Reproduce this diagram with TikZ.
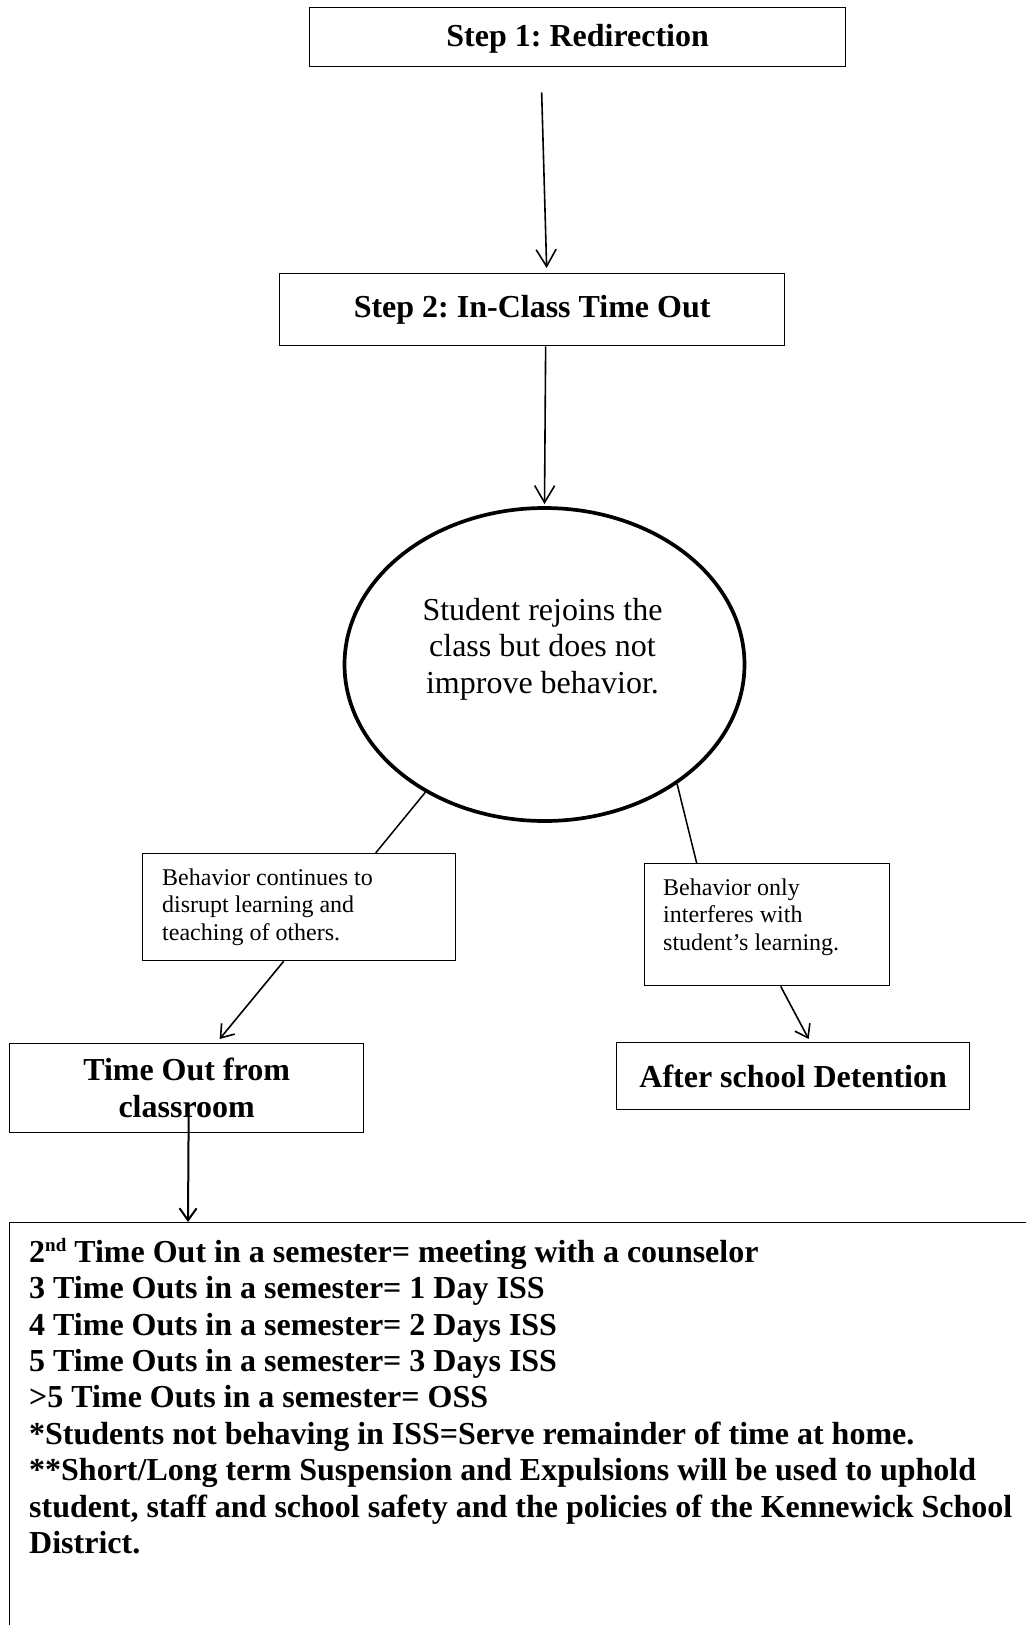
\documentclass[tikz,border=0pt]{standalone}
\usepackage{fontspec}
\setmainfont{Liberation Serif}
\usetikzlibrary{arrows.meta,calc,shapes.geometric}
\frenchspacing
\begin{document}
\begin{tikzpicture}[x=1pt,y=-1pt,
  boxline/.style={draw=black, line width=1.3pt, rectangle, inner sep=0pt, fill=white, anchor=north west},
  bigbold/.style={font=\fontsize{32}{37}\selectfont\bfseries},
  smalltext/.style={font=\fontsize{24}{27.5}\selectfont, align=left, anchor=north west, inner sep=0pt},
  conn/.style={line width=1.5pt},
  arrbig/.style={line width=1.6pt, -{Straight Barb[length=17pt,width=20pt]}},
  arrsmall/.style={line width=1.6pt, -{Straight Barb[length=12pt,width=17pt]}}]
\useasboundingbox (0,0) rectangle (1026,1625);
\fill[white] (0,0) rectangle (1026,1625);
\clip (0,0) rectangle (1026,1625);

% boxes
\node[boxline, bigbold, minimum width=536pt, minimum height=59pt, text depth=4pt] (s1) at (309,7) {Step 1: Redirection};
\node[boxline, bigbold, minimum width=505pt, minimum height=72pt] (s2) at (279,273) {Step 2: In-Class Time Out};
\node[ellipse, draw=black, line width=3.7pt, minimum width=400pt, minimum height=313pt, inner sep=0pt] (ell) at (544.5,664.5) {};
\node[font=\fontsize{32}{36.5}\selectfont, align=center, anchor=north, inner sep=0pt] (et) at (542.5,598) {Student rejoins the\\class but does not\\improve behavior.};

\node[boxline, minimum width=313pt, minimum height=107pt] (b1) at (142,853) {};
\node[smalltext] (b1t) at (162,868.6) {Behavior continues to\\disrupt learning and\\teaching of others.};
\node[boxline, minimum width=245pt, minimum height=122pt] (b2) at (644,863) {};
\node[smalltext] (b2t) at (663,878.6) {Behavior only\\interferes with\\student’s learning.};

\node[boxline, bigbold, align=center, minimum width=354pt, minimum height=89pt] (tob) at (9,1043) {Time Out from\\classroom};
\node[boxline, bigbold, minimum width=353pt, minimum height=67pt] (asd) at (616,1042) {After school Detention};

\node[boxline, minimum width=1100pt, minimum height=500pt] (bb) at (9,1222) {};
\node[font=\fontsize{32}{36.4}\selectfont\bfseries, align=left, anchor=north west, inner sep=0pt] (bbt) at (29,1232) {\rule{0pt}{30pt}2\raisebox{11pt}{\fontsize{19}{19}\selectfont nd} Time Out in a semester= meeting with a counselor\\
3 Time Outs in a semester= 1 Day ISS\\
4 Time Outs in a semester= 2 Days ISS\\
5 Time Outs in a semester= 3 Days ISS\\
>5 Time Outs in a semester= OSS\\
*Students not behaving in ISS=Serve remainder of time at home.\\
**Short/Long term Suspension and Expulsions will be used to uphold\\
student, staff and school safety and the policies of the Kennewick School\\
District.};

% connectors
\draw[arrbig] ($(s1.south)+(-36,25)$) -- ($(s2.north)+(14.5,-5)$);
\draw[arrbig] ($(s2.south)+(13.5,0)$) -- ($(ell.north)+(0,-2)$);
\draw[conn] (ell.227) -- ($(b1.north)+(76.5,0)$);
\draw[arrsmall] ($(b1.south)+(-15.5,0)$) -- ($(tob.north)+(33,-4)$);
\draw[conn] (ell.318) -- ($(b2.north)+(-70.5,0)$);
\draw[arrsmall] ($(b2.south)+(13.5,0)$) -- ($(asd.north)+(15.5,-3)$);
\draw[arrsmall, line width=2pt] ($(tob.south)+(2,-17)$) -- ($(bb.north west)+(179,0)$);
\end{tikzpicture}
\end{document}
